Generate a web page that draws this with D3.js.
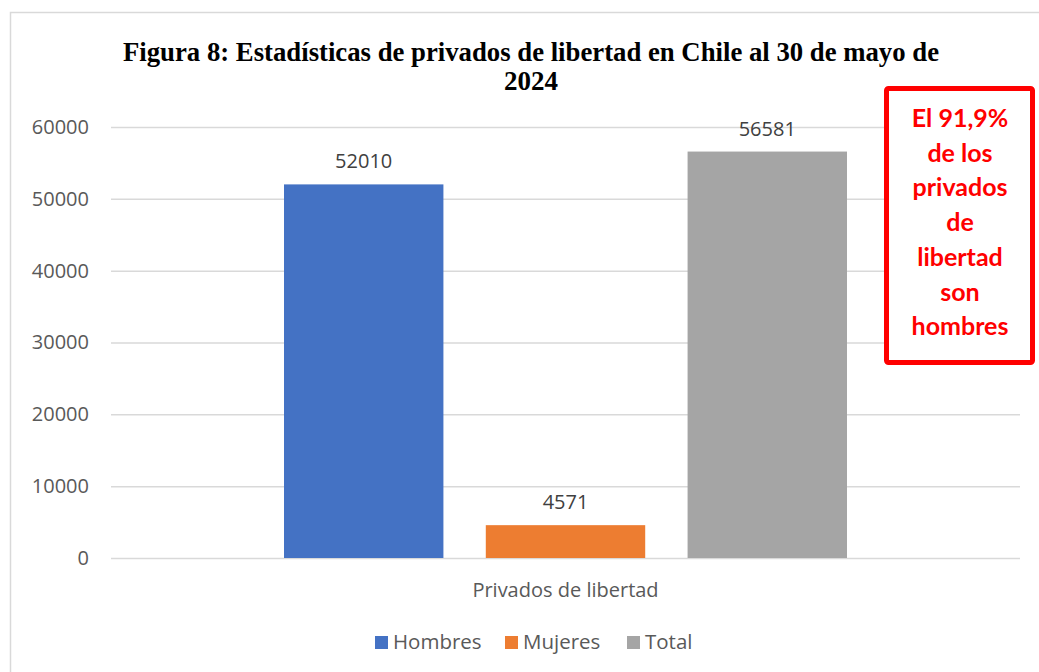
<!DOCTYPE html>
<html lang="es">
<head>
<meta charset="UTF-8">
<title>Figura 8</title>
<script src="https://d3js.org/d3.v7.min.js"></script>
<style>
  body { margin: 0; background: #fff; }
</style>
</head>
<body>
<div id="chart"></div>
<script>
// data
var category = "Privados de libertad";
var seriesNames = ["Hombres", "Mujeres", "Total"];
var seriesValues = [52010, 4571, 56581];
var seriesColors = ["#4472C4", "#ED7D31", "#A5A5A5"];
var yTicks = [0, 10000, 20000, 30000, 40000, 50000, 60000];
var noteLines = ["El 91,9%", "de los", "privados", "de", "libertad", "son", "hombres"];

var W = 1039, H = 672;
var plot = {left: 111, right: 1020, top: 127, bottom: 558};

var svg = d3.select("#chart").append("svg")
    .attr("width", W)
    .attr("height", H);

// outer chart border
svg.append("rect")
    .attr("x", 10.5).attr("y", 12.5)
    .attr("width", 1040).attr("height", 680)
    .attr("fill", "#fff")
    .attr("stroke", "#d9d9d9")
    .attr("stroke-width", 1.5);

// title (the original font is tall and narrow, so squeeze it a bit)
var titleFont = "'Liberation Serif', 'Times New Roman', serif";
svg.append("text")
    .attr("x", 531).attr("y", 61)
    .attr("text-anchor", "middle")
    .style("font-family", titleFont)
    .style("font-weight", "bold")
    .style("font-size", "27px")
    .attr("textLength", 816)
    .attr("lengthAdjust", "spacingAndGlyphs")
    .text("Figura 8: Estadísticas de privados de libertad en Chile al 30 de mayo de");
svg.append("text")
    .attr("x", 531).attr("y", 90)
    .attr("text-anchor", "middle")
    .style("font-family", titleFont)
    .style("font-weight", "bold")
    .style("font-size", "27px")
    .attr("textLength", 54)
    .attr("lengthAdjust", "spacingAndGlyphs")
    .text("2024");

var y = d3.scaleLinear()
    .domain([0, 60000])
    .range([plot.bottom, plot.top]);

var x0 = d3.scaleBand()
    .domain([category])
    .range([plot.left, plot.right]);

var x1 = d3.scaleBand()
    .domain(seriesNames)
    .range([x0(category) + 173, x0(category) + x0.bandwidth() - 173])
    .paddingInner(0.21);

// gridlines
svg.append("g")
    .attr("transform", "translate(" + plot.left + ",0)")
    .call(d3.axisLeft(y).tickValues(yTicks).tickSize(-(plot.right - plot.left)).tickFormat(""))
    .call(function(g) {
        g.select(".domain").remove();
        g.selectAll("line").attr("stroke", "#d9d9d9").attr("stroke-width", 1.5);
    });

// y tick labels
svg.append("g")
    .attr("transform", "translate(89,0)")
    .call(d3.axisLeft(y).tickValues(yTicks).tickSize(0).tickPadding(0).tickFormat(d3.format("d")))
    .call(function(g) {
        g.select(".domain").remove();
        g.selectAll("text")
            .attr("fill", "#595959")
            .style("font-family", "'Open Sans', sans-serif")
            .style("font-size", "20px");
    });

// bars
svg.selectAll("rect.bar")
    .data(seriesValues)
    .enter().append("rect")
    .attr("class", "bar")
    .attr("x", function(d, i) { return x1(seriesNames[i]); })
    .attr("y", function(d) { return y(d); })
    .attr("width", x1.bandwidth())
    .attr("height", function(d) { return y(0) - y(d); })
    .attr("fill", function(d, i) { return seriesColors[i]; });

// value labels
svg.selectAll("text.val")
    .data(seriesValues)
    .enter().append("text")
    .attr("class", "val")
    .attr("text-anchor", "middle")
    .attr("x", function(d, i) { return x1(seriesNames[i]) + x1.bandwidth() / 2; })
    .attr("y", function(d) { return y(d) - 16; })
    .attr("fill", "#404040")
    .style("font-family", "'Open Sans', sans-serif")
    .style("font-size", "20px")
    .text(function(d) { return d; });

// x category label
svg.append("text")
    .attr("x", x0(category) + x0.bandwidth() / 2)
    .attr("y", 597)
    .attr("text-anchor", "middle")
    .attr("fill", "#595959")
    .style("font-family", "'Open Sans', sans-serif")
    .style("font-size", "20px")
    .text(category);

// legend
var legendX = [375, 505, 627];
var legend = svg.selectAll("g.leg")
    .data(seriesNames)
    .enter().append("g")
    .attr("class", "leg")
    .attr("transform", function(d, i) { return "translate(" + legendX[i] + ",636)"; });
legend.append("rect")
    .attr("width", 13).attr("height", 13)
    .attr("fill", function(d, i) { return seriesColors[i]; });
legend.append("text")
    .attr("x", 18).attr("y", 13)
    .attr("fill", "#595959")
    .style("font-family", "'Open Sans', sans-serif")
    .style("font-size", "20.5px")
    .text(function(d) { return d; });

// red note box
svg.append("rect")
    .attr("x", 886.5).attr("y", 88.5)
    .attr("width", 146).attr("height", 274)
    .attr("fill", "#fff")
    .attr("stroke", "#ff0000")
    .attr("stroke-width", 5)
    .attr("rx", 2);

svg.selectAll("text.note")
    .data(noteLines)
    .enter().append("text")
    .attr("class", "note")
    .attr("x", 960)
    .attr("y", function(d, i) { return 127 + i * 34.7; })
    .attr("text-anchor", "middle")
    .attr("fill", "#ff0000")
    .style("font-family", "Lato, sans-serif")
    .style("font-weight", "bold")
    .style("font-size", "25px")
    .text(function(d) { return d; });
</script>
</body>
</html>
